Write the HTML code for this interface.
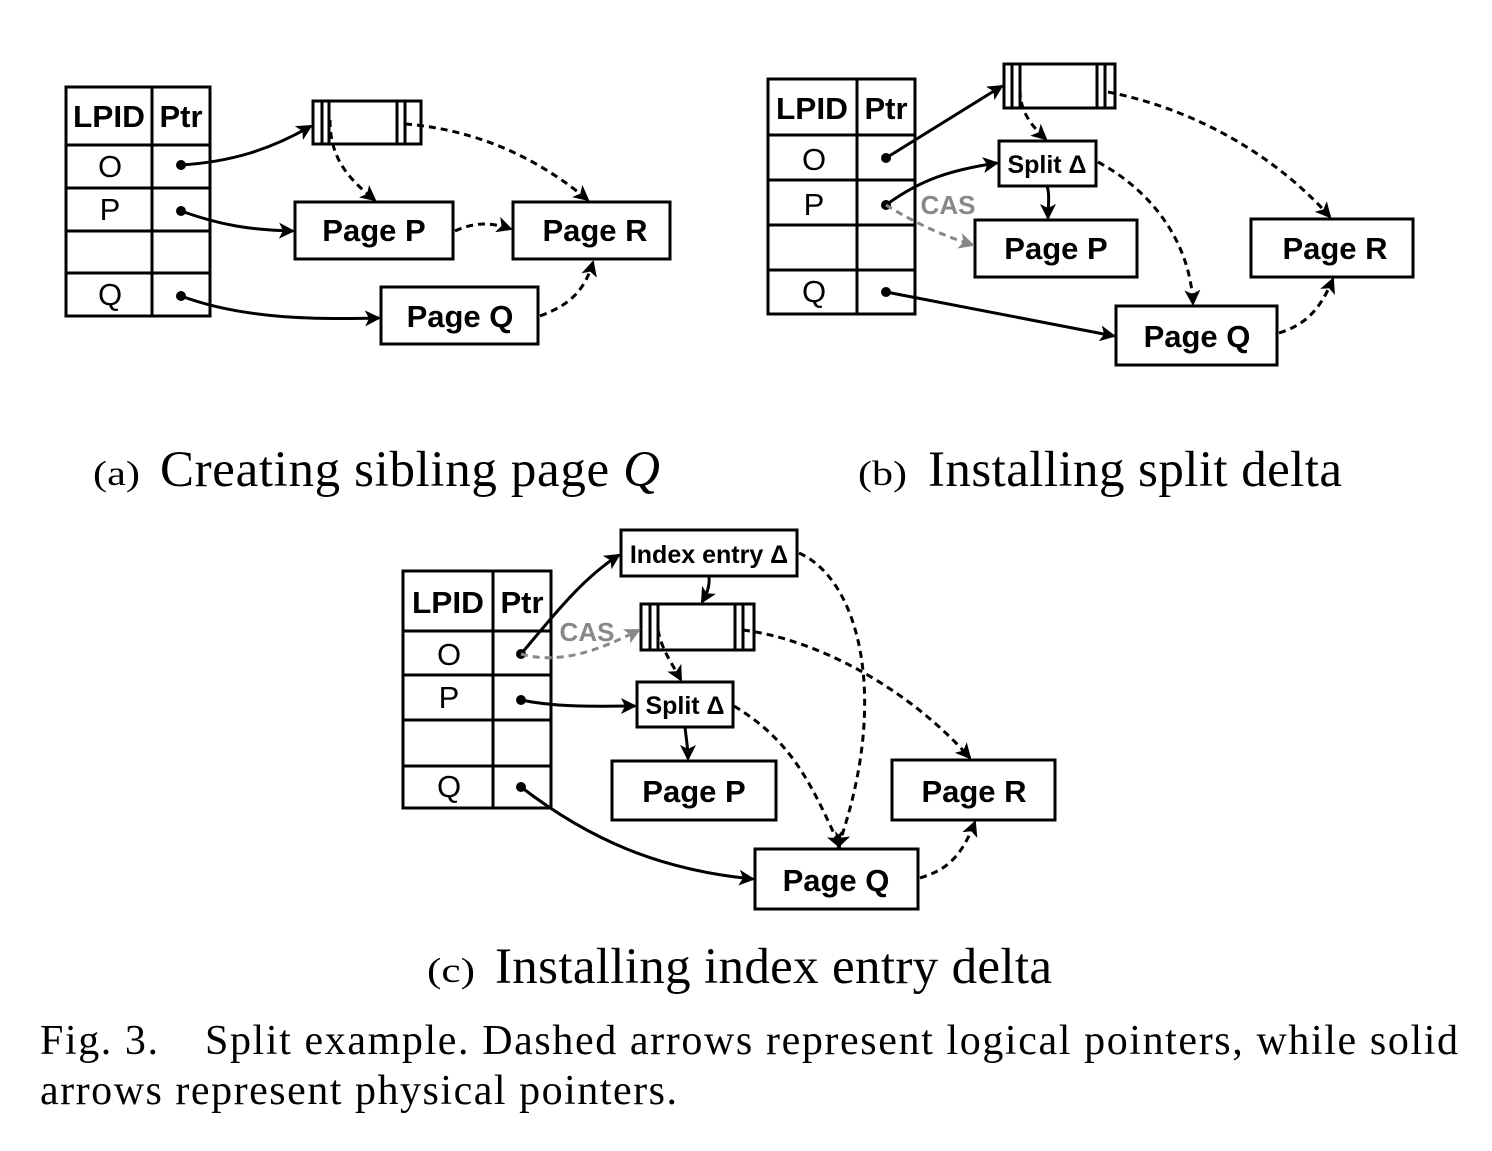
<!DOCTYPE html>
<html><head><meta charset="utf-8"><style>
body{margin:0;background:#fff}
svg text{font-family:"Liberation Sans",Arial,sans-serif}
svg text.t{font-family:"Liberation Serif",serif}
</style></head><body>
<svg width="1492" height="1146" viewBox="0 0 1492 1146" xmlns="http://www.w3.org/2000/svg">
<defs>
<marker id="a" markerWidth="16" markerHeight="16" refX="14" refY="8" orient="auto" markerUnits="userSpaceOnUse" viewBox="0 0 16 16"><path d="M0,0 L16,8 L0,16 L4,8z" fill="#000"/></marker>
<marker id="g" markerWidth="16" markerHeight="16" refX="14" refY="8" orient="auto" markerUnits="userSpaceOnUse" viewBox="0 0 16 16"><path d="M0,0 L16,8 L0,16 L4,8z" fill="#888"/></marker>
</defs>
<g fill="none" stroke="#000" stroke-width="3">
<rect x="66" y="87" width="144" height="229"/>
<line x1="152" y1="87" x2="152" y2="316"/>
<line x1="66" y1="145" x2="210" y2="145"/><line x1="66" y1="188" x2="210" y2="188"/><line x1="66" y1="231" x2="210" y2="231"/><line x1="66" y1="273" x2="210" y2="273"/>
<rect x="313" y="101" width="108" height="43"/>
<line x1="322" y1="101" x2="322" y2="144"/><line x1="329" y1="101" x2="329" y2="144"/><line x1="397" y1="101" x2="397" y2="144"/><line x1="405" y1="101" x2="405" y2="144"/>
<rect x="295" y="202" width="158" height="57"/><rect x="513" y="202" width="157" height="57"/><rect x="381" y="287" width="157" height="57"/>
<rect x="768" y="79" width="147" height="235"/>
<line x1="857" y1="79" x2="857" y2="314"/>
<line x1="768" y1="135" x2="915" y2="135"/><line x1="768" y1="180" x2="915" y2="180"/><line x1="768" y1="225" x2="915" y2="225"/><line x1="768" y1="270" x2="915" y2="270"/>
<rect x="1004" y="64" width="111" height="44"/>
<line x1="1012" y1="64" x2="1012" y2="108"/><line x1="1020" y1="64" x2="1020" y2="108"/><line x1="1097" y1="64" x2="1097" y2="108"/><line x1="1105" y1="64" x2="1105" y2="108"/>
<rect x="999" y="141" width="97" height="45"/><rect x="975" y="220" width="162" height="57"/><rect x="1251" y="219" width="162" height="58"/><rect x="1116" y="306" width="161" height="59"/>
<rect x="403" y="571" width="148" height="237"/>
<line x1="493" y1="571" x2="493" y2="808"/>
<line x1="403" y1="631" x2="551" y2="631"/><line x1="403" y1="675" x2="551" y2="675"/><line x1="403" y1="720" x2="551" y2="720"/><line x1="403" y1="766" x2="551" y2="766"/>
<rect x="621" y="530" width="176" height="46"/>
<rect x="641" y="604" width="113" height="46"/>
<line x1="650" y1="604" x2="650" y2="650"/><line x1="658" y1="604" x2="658" y2="650"/><line x1="735" y1="604" x2="735" y2="650"/><line x1="743" y1="604" x2="743" y2="650"/>
<rect x="637" y="682" width="96" height="45"/><rect x="612" y="761" width="164" height="59"/><rect x="892" y="760" width="163" height="60"/><rect x="755" y="849" width="163" height="60"/>
</g>
<g fill="#000">
<circle cx="181" cy="165" r="5"/><circle cx="181" cy="211" r="5"/><circle cx="181" cy="296" r="5"/>
<circle cx="886" cy="158" r="5"/><circle cx="886" cy="205" r="5"/><circle cx="886" cy="292" r="5"/>
<circle cx="521" cy="654" r="5"/><circle cx="521" cy="700" r="5"/><circle cx="521" cy="787" r="5"/>
</g>
<g fill="none" stroke="#000" stroke-width="3" marker-end="url(#a)">
<path d="M181,165 C230,162 270,150 311,126"/>
<path d="M181,211 C220,225 250,230 293,231"/>
<path d="M181,296 C240,318 310,320 379,318"/>
<path d="M886,158 L1002,86"/>
<path d="M886,205 C920,180 950,170 997,163"/>
<path d="M1047,186 C1050,195 1048,205 1048,218"/>
<path d="M886,292 L1114,336"/>
<path d="M521,654 C550,620 580,580 619,555"/>
<path d="M709,576 C710,588 706,595 702,602"/>
<path d="M521,700 C560,708 600,706 635,706"/>
<path d="M685,727 C686,737 688,748 688,759"/>
<path d="M521,787 C590,840 660,870 753,879"/>
</g>
<g fill="none" stroke="#000" stroke-width="3" stroke-dasharray="7,5" marker-end="url(#a)">
<path d="M330,120 C330,160 350,180 375,200"/>
<path d="M405,124 C480,130 540,160 588,200"/>
<path d="M455,231 C475,222 490,222 511,229"/>
<path d="M540,316 C570,305 585,290 593,262"/>
<path d="M1020,90 C1020,110 1030,125 1046,139"/>
<path d="M1108,92 C1200,110 1280,160 1330,217"/>
<path d="M1098,162 C1150,190 1190,240 1193,304"/>
<path d="M1279,333 C1305,325 1320,310 1333,279"/>
<path d="M658,630 C662,650 670,660 681,680"/>
<path d="M743,630 C820,640 910,690 970,758"/>
<path d="M799,553 C860,580 890,700 838,847"/>
<path d="M734,706 C790,740 810,780 840,847"/>
<path d="M920,878 C945,870 960,860 975,822"/>
</g>
<g fill="none" stroke="#888" stroke-width="3" stroke-dasharray="7,5" marker-end="url(#g)">
<path d="M886,205 C910,220 940,235 973,245"/>
<path d="M521,654 C560,665 600,650 639,630"/>
</g>
<g font-weight="bold" font-size="31" text-anchor="middle">
<text x="109" y="127" textLength="72" lengthAdjust="spacingAndGlyphs">LPID</text><text x="181" y="127">Ptr</text>
<text x="812" y="119" textLength="72" lengthAdjust="spacingAndGlyphs">LPID</text><text x="886" y="119">Ptr</text>
<text x="448" y="613" textLength="72" lengthAdjust="spacingAndGlyphs">LPID</text><text x="522" y="613">Ptr</text>
<text x="374" y="241">Page P</text><text x="595" y="241">Page R</text><text x="460" y="327">Page Q</text>
<text x="1056" y="259">Page P</text><text x="1335" y="259">Page R</text><text x="1197" y="347">Page Q</text>
<text x="694" y="802">Page P</text><text x="974" y="802">Page R</text><text x="836" y="891">Page Q</text>
<text x="1047" y="173" font-size="25">Split Δ</text>
<text x="685" y="714" font-size="25">Split Δ</text>
<text x="709" y="563" font-size="25">Index entry Δ</text>
<text x="948" y="214" font-size="26" fill="#888">CAS</text>
<text x="587" y="641" font-size="26" fill="#888">CAS</text>
</g>
<g font-size="31" text-anchor="middle">
<text x="110" y="177">O</text><text x="110" y="220">P</text><text x="110" y="305">Q</text>
<text x="814" y="170">O</text><text x="814" y="215">P</text><text x="814" y="302">Q</text>
<text x="449" y="665">O</text><text x="449" y="708">P</text><text x="449" y="797">Q</text>
</g>
<text class="t" x="93" y="485" font-size="35" textLength="47" lengthAdjust="spacingAndGlyphs">(a)</text>
<text class="t" x="160" y="486" font-size="51" textLength="500" lengthAdjust="spacing">Creating sibling page <tspan font-style="italic">Q</tspan></text>
<text class="t" x="858" y="485" font-size="35" textLength="49" lengthAdjust="spacingAndGlyphs">(b)</text>
<text class="t" x="928" y="486" font-size="51" textLength="414" lengthAdjust="spacing">Installing split delta</text>
<text class="t" x="427" y="982" font-size="35" textLength="48" lengthAdjust="spacingAndGlyphs">(c)</text>
<text class="t" x="495" y="983" font-size="51" textLength="557" lengthAdjust="spacing">Installing index entry delta</text>
<text class="t" x="40" y="1054" font-size="42" textLength="118" lengthAdjust="spacing">Fig. 3.</text>
<text class="t" x="205" y="1054" font-size="42" textLength="1253" lengthAdjust="spacing">Split example. Dashed arrows represent logical pointers, while solid</text>
<text class="t" x="40" y="1104" font-size="42" textLength="637" lengthAdjust="spacing">arrows represent physical pointers.</text>
</svg>
</body></html>
